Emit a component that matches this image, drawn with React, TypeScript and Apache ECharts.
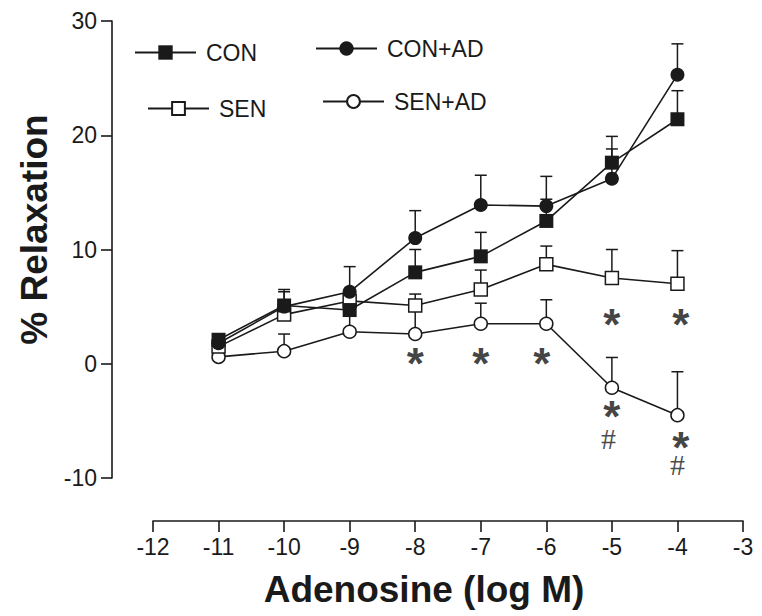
import React, { useEffect, useRef } from "react";
import * as echarts from "echarts";

// Adenosine concentration (log M)
const doses = [-11, -10, -9, -8, -7, -6, -5, -4];

// Mean % relaxation and SEM per group
const conMean = [2.1, 5.1, 4.7, 8.0, 9.4, 12.5, 17.6, 21.4];
const conSem = [0.3, 1.4, 1.0, 2.0, 2.1, 1.9, 2.3, 2.5];

const conAdMean = [1.8, 5.0, 6.3, 11.0, 13.9, 13.8, 16.2, 25.3];
const conAdSem = [0.2, 1.3, 2.2, 2.4, 2.6, 2.6, 2.6, 2.7];

const senMean = [1.5, 4.3, 5.5, 5.1, 6.5, 8.7, 7.5, 7.0];
const senSem = [0.3, 1.0, 0.5, 1.0, 1.7, 1.6, 2.5, 2.9];

const senAdMean = [0.6, 1.1, 2.8, 2.6, 3.5, 3.5, -2.1, -4.5];
const senAdSem = [0.2, 1.5, 1.6, 2.1, 1.8, 2.1, 2.65, 3.8];

// significance marks (data coordinates)
const starMarks = [
  [-8, 0.75],
  [-7, 0.75],
  [-6.07, 0.75],
  [-5, 4.17],
  [-3.95, 4.17],
  [-5, -3.9],
  [-3.95, -6.6],
];
const hashMarks = [
  [-5.05, -6.5],
  [-4.0, -8.8],
];

const yTicks = { min: -10, max: 30, interval: 10 };
const xTicks = { min: -12, max: -3, interval: 1 };

const INK = "#1a1a1a";
const FONT = "Liberation Sans, Arial, sans-serif";

function errorSeries(name: string, mean: number[], sem: number[]) {
  return {
    type: "custom",
    name: name + "-err",
    z: 1,
    silent: true,
    data: doses.map((d, i) => [d, mean[i], mean[i] + sem[i]]),
    renderItem: (params: any, api: any) => {
      const x = api.value(0);
      const p0 = api.coord([x, api.value(1)]);
      const p1 = api.coord([x, api.value(2)]);
      const hw = 6;
      return {
        type: "group",
        children: [
          {
            type: "line",
            shape: { x1: p0[0], y1: p0[1], x2: p1[0], y2: p1[1] },
            style: { stroke: INK, lineWidth: 1.5 },
          },
          {
            type: "line",
            shape: { x1: p1[0] - hw, y1: p1[1], x2: p1[0] + hw, y2: p1[1] },
            style: { stroke: INK, lineWidth: 1.5 },
          },
        ],
      };
    },
  };
}

function lineSeries(name: string, mean: number[], symbol: string, filled: boolean, size: number, z: number) {
  return {
    type: "line",
    name,
    z,
    data: doses.map((d, i) => [d, mean[i]]),
    symbol,
    symbolSize: size,
    showAllSymbol: true,
    lineStyle: { color: INK, width: 1.6 },
    itemStyle: {
      color: filled ? INK : "#ffffff",
      borderColor: INK,
      borderWidth: filled ? 0 : 1.5,
      opacity: 1,
    },
    emphasis: { disabled: true },
  };
}

function legendAt(name: string, left: number, top: number, itemHeight: number) {
  return {
    data: [name],
    left,
    top,
    padding: 0,
    itemWidth: 61,
    itemHeight,
    selectedMode: false,
    textStyle: {
      fontFamily: FONT,
      fontSize: 23,
      color: INK,
      padding: [0, 0, 0, 5],
      lineHeight: itemHeight,
    },
  };
}

export default function App() {
  const ref = useRef<HTMLDivElement>(null);
  useEffect(() => {
    if (!ref.current) return;
    const chart = echarts.init(ref.current, undefined, { renderer: "svg" });
    chart.setOption({
      animation: false,
      backgroundColor: "#ffffff",
      grid: { left: 153, right: 19, top: 21, bottom: 138 },
      legend: [
        legendAt("CON", 134, 41, 18),
        legendAt("CON+AD", 315, 37, 18),
        legendAt("SEN", 147, 97, 16),
        legendAt("SEN+AD", 322, 90, 16),
      ],
      xAxis: {
        type: "value",
        min: xTicks.min,
        max: xTicks.max,
        interval: xTicks.interval,
        offset: 43,
        name: "Adenosine (log M)",
        nameLocation: "middle",
        nameGap: 50,
        nameTextStyle: {
          fontFamily: FONT,
          fontSize: 37,
          fontWeight: "bold",
          color: INK,
          padding: [0, 48, 0, 0],
        },
        axisLine: { onZero: false, lineStyle: { color: INK, width: 1.6 } },
        axisTick: { show: true, length: 11, lineStyle: { color: INK, width: 1.6 } },
        axisLabel: { fontFamily: FONT, fontSize: 23, color: INK, margin: 14 },
        splitLine: { show: false },
      },
      yAxis: {
        type: "value",
        min: yTicks.min,
        max: yTicks.max,
        interval: yTicks.interval,
        offset: 41,
        name: "% Relaxation",
        nameLocation: "middle",
        nameGap: 59,
        nameTextStyle: {
          fontFamily: FONT,
          fontSize: 37,
          fontWeight: "bold",
          color: INK,
          padding: [0, 0, 0, 40],
        },
        axisLine: { onZero: false, lineStyle: { color: INK, width: 1.6 } },
        axisTick: { show: true, length: 11, lineStyle: { color: INK, width: 1.6 } },
        axisLabel: { fontFamily: FONT, fontSize: 23, color: INK, margin: 15 },
        splitLine: { show: false },
      },
      series: [
        errorSeries("CON", conMean, conSem),
        errorSeries("CON+AD", conAdMean, conAdSem),
        errorSeries("SEN", senMean, senSem),
        errorSeries("SEN+AD", senAdMean, senAdSem),
        lineSeries("SEN+AD", senAdMean, "circle", false, 13, 3),
        lineSeries("SEN", senMean, "rect", false, 13, 4),
        lineSeries("CON+AD", conAdMean, "circle", true, 14, 5),
        lineSeries("CON", conMean, "rect", true, 14, 6),
        {
          type: "scatter",
          name: "star",
          symbolSize: 0,
          silent: true,
          z: 7,
          data: starMarks,
          label: {
            show: true,
            position: "inside",
            formatter: "*",
            fontFamily: FONT,
            fontWeight: "bold",
            fontSize: 44,
            lineHeight: 16,
            color: "#111",
            offset: [0, 8],
          },
        },
        {
          type: "scatter",
          name: "hash",
          symbolSize: 0,
          silent: true,
          z: 7,
          data: hashMarks,
          label: {
            show: true,
            position: "inside",
            formatter: "#",
            fontFamily: "Liberation Serif, serif",
            fontSize: 30,
            lineHeight: 16,
            color: INK,
          },
        },
      ],
    });
    return () => chart.dispose();
  }, []);
  return (
    <div
      ref={ref}
      style={{ position: "fixed", left: 0, top: 0, width: 762, height: 616, background: "#fff" }}
    />
  );
}
